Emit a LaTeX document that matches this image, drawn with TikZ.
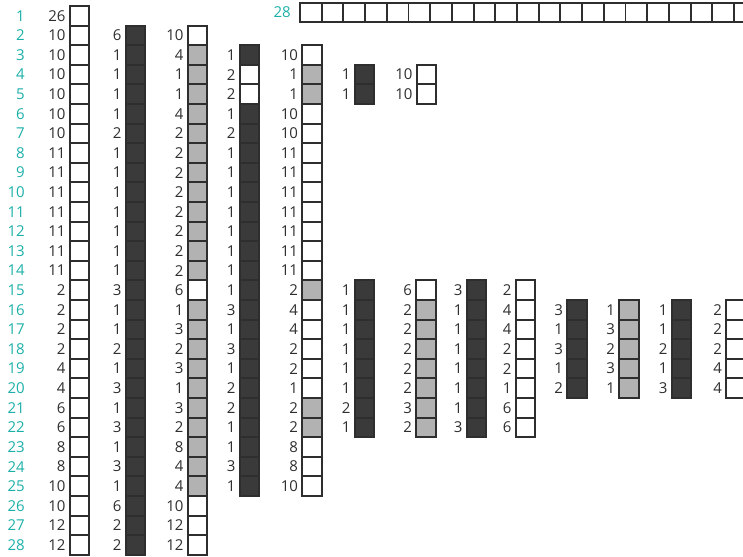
\documentclass[tikz,border=0pt]{standalone}
\usepackage{fontspec}
\setmainfont{Open Sans}
\usepackage{tikz}
\usetikzlibrary{positioning}
\definecolor{ink}{HTML}{2E2E2E}
\definecolor{dk}{HTML}{3A3A3A}
\definecolor{lt}{HTML}{B2B2B2}
\definecolor{rowc}{HTML}{1CB0A8}
% one column of cells: name, centre x, first row, list colour/value
\newcommand{\cellcol}[4]{%
  \foreach \s/\v [count=\i from #3] in {#4} {
    \node[cell,fill=\s] (#1\i) at (#2,{6+(\i-0.5)*19.6}) {};
    \node[num,left=4pt of #1\i] (#1\i-v) {\v};
  }}

\begin{document}
\begin{tikzpicture}[x=1pt,y=-1pt,every node/.style={font=\fontsize{15}{15}\selectfont},
    cell/.style={draw=ink,line width=1.9pt,minimum width=19.5pt,minimum height=19.6pt,inner sep=0pt,outer sep=0pt},
    num/.style={text=ink,inner sep=0pt},
    rownum/.style={text=rowc,inner sep=0pt,anchor=east}]
  \useasboundingbox (0,0) rectangle (743,556);
  \clip (0,0) rectangle (743,556);
  % ---- row numbers ----
  \foreach \i in {1,...,28}
    \node[rownum] (r\i) at (25,{6+(\i-0.5)*19.6}) {\i};
  % ---- top strip ----
  \node[rownum] (top) at (291,12.5) {28};
  \foreach \j in {1,...,21}
    \node[cell,fill=white,minimum width=21.7pt,minimum height=19pt] (h\j) at ({300+(\j-0.5)*21.7},12.5) {};
  % ---- long columns ----
  \cellcol{A}{79.5}{1}{white/26,white/10,white/10,white/10,white/10,white/10,white/10,white/11,white/11,white/11,
    white/11,white/11,white/11,white/11,white/2,white/2,white/2,white/2,white/4,white/4,white/6,white/6,white/8,
    white/8,white/10,white/10,white/12,white/12}
  \cellcol{B}{135.5}{2}{dk/6,dk/1,dk/1,dk/1,dk/1,dk/2,dk/1,dk/1,dk/1,dk/1,dk/1,dk/1,dk/1,
    dk/3,dk/1,dk/1,dk/2,dk/1,dk/3,dk/1,dk/3,dk/1,dk/3,dk/1,dk/6,dk/2,dk/2}
  \cellcol{C}{197.5}{2}{white/10,lt/4,lt/1,lt/1,lt/4,lt/2,lt/2,lt/2,lt/2,lt/2,lt/2,lt/2,lt/2,
    white/6,lt/1,lt/3,lt/2,lt/3,lt/1,lt/3,lt/2,lt/8,lt/4,lt/4,white/10,white/12,white/12}
  \cellcol{D}{249.5}{3}{dk/1,white/2,white/2,dk/1,dk/2,dk/1,dk/1,dk/1,dk/1,dk/1,dk/1,dk/1,
    dk/1,dk/3,dk/1,dk/3,dk/1,dk/2,dk/2,dk/1,dk/1,dk/3,dk/1}
  \cellcol{E}{312}{3}{white/10,lt/1,lt/1,white/10,white/10,white/11,white/11,white/11,white/11,white/11,white/11,
    white/11,lt/2,white/4,white/4,white/2,white/2,white/1,lt/2,lt/2,white/8,white/8,white/10}
  % ---- short columns, top ----
  \cellcol{F}{364.5}{4}{dk/1,dk/1}
  \cellcol{G}{426.5}{4}{white/10,white/10}
  % ---- short columns, bottom ----
  \cellcol{H}{364.5}{15}{dk/1,dk/1,dk/1,dk/1,dk/1,dk/1,dk/2,dk/1}
  \cellcol{I}{426}{15}{white/6,lt/2,lt/2,lt/2,lt/2,lt/2,lt/3,lt/2}
  \cellcol{J}{476.5}{15}{dk/3,dk/1,dk/1,dk/1,dk/1,dk/1,dk/1,dk/3}
  \cellcol{K}{525.5}{15}{white/2,white/4,white/4,white/2,white/2,white/1,white/6,white/6}
  \cellcol{L}{577}{16}{dk/3,dk/1,dk/3,dk/1,dk/2}
  \cellcol{M}{629}{16}{lt/1,lt/3,lt/2,lt/3,lt/1}
  \cellcol{N}{681.5}{16}{dk/1,dk/1,dk/2,dk/1,dk/3}
  \cellcol{O}{736}{16}{white/2,white/2,white/2,white/4,white/4}
\end{tikzpicture}
\end{document}
